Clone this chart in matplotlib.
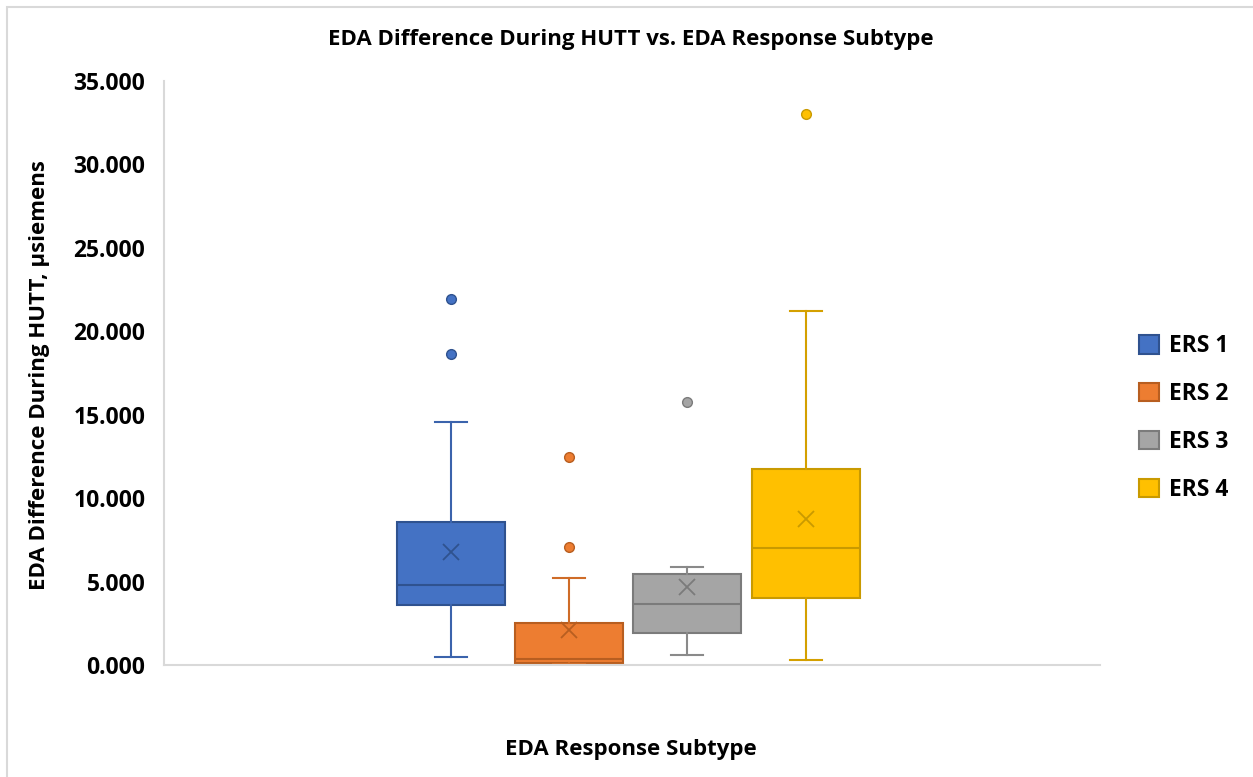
import matplotlib.pyplot as plt
from matplotlib.patches import Patch, Rectangle
from matplotlib.ticker import FormatStrFormatter

plt.rcParams['font.family'] = ['Open Sans', 'DejaVu Sans']

# Подписи групп
groups = ['ERS 1', 'ERS 2', 'ERS 3', 'ERS 4']

# Значения (мкСм)
whislo = [0.48, 0.05, 0.60, 0.30]
q1 = [3.60, 0.10, 1.92, 4.00]
med = [4.79, 0.34, 3.67, 6.99]
q3 = [8.57, 2.49, 5.47, 11.74]
whishi = [14.56, 5.23, 5.89, 21.21]
means = [6.77, 2.10, 4.69, 8.75]
fliers = [[21.93, 18.63], [12.48, 7.05], [15.76], [33.0]]

# Цвета серий
fill_colors = ['#4472C4', '#ED7D31', '#A5A5A5', '#FFC000']
edge_colors = ['#2F528F', '#B85E20', '#7B7B7B', '#C99A00']
line_colors = ['#3B63AC', '#CF6C28', '#8A8A8A', '#D4A000']

fig = plt.figure(figsize=(12.53, 7.77), dpi=100)
ax = fig.add_axes([164/1253, 112/777, 936/1253, 584/777])

# Рамка всей диаграммы
fig.patches.append(Rectangle((7/1253, -0.1), 1.2, (770/777) + 0.1,
                             transform=fig.transFigure, fill=False,
                             edgecolor='#D9D9D9', linewidth=1.5))

positions = [0.3066, 0.4327, 0.5588, 0.686]
box_w = 0.1154

for i in range(len(groups)):
    st = [{'whislo': whislo[i], 'q1': q1[i], 'med': med[i], 'q3': q3[i],
           'whishi': whishi[i], 'mean': means[i], 'fliers': fliers[i]}]
    ax.bxp(st, positions=[positions[i]], widths=box_w, capwidths=0.034,
           showmeans=True, patch_artist=True, manage_ticks=False,
           boxprops=dict(facecolor=fill_colors[i], edgecolor=edge_colors[i], linewidth=1.5),
           medianprops=dict(color=edge_colors[i], linewidth=1.5),
           whiskerprops=dict(color=line_colors[i], linewidth=1.5),
           capprops=dict(color=line_colors[i], linewidth=1.5),
           meanprops=dict(marker='x', markersize=12, markeredgecolor=edge_colors[i],
                          markeredgewidth=1.3, linestyle='none'),
           flierprops=dict(marker='o', markersize=7, markerfacecolor=fill_colors[i],
                           markeredgecolor=edge_colors[i], markeredgewidth=1))

ax.set_xlim(0, 1)
ax.set_ylim(0, 35)
ax.set_yticks([0, 5, 10, 15, 20, 25, 30, 35])
ax.yaxis.set_major_formatter(FormatStrFormatter('%.3f'))
ax.set_xticks([])
ax.tick_params(axis='y', length=0, pad=13.5, labelsize=16.5)
for lab in ax.get_yticklabels():
    lab.set_fontweight('bold')

for s in ['top', 'right']:
    ax.spines[s].set_visible(False)
ax.spines['left'].set_color('#D9D9D9')
ax.spines['bottom'].set_color('#D9D9D9')
ax.spines['left'].set_linewidth(1.5)
ax.spines['bottom'].set_linewidth(1.5)

fig.text(631/1253, 1 - 40/777, 'EDA Difference During HUTT vs. EDA Response Subtype',
         ha='center', va='center', fontsize=16, fontweight='bold')
fig.text(631/1253, 1 - 750/777, 'EDA Response Subtype',
         ha='center', va='center', fontsize=16, fontweight='bold')
fig.text(40/1253, 1 - 375/777, 'EDA Difference During HUTT, \u00b5siemens',
         ha='center', va='center', rotation=90, fontsize=16, fontweight='bold')

handles = [Patch(facecolor=fill_colors[i], edgecolor=edge_colors[i], linewidth=1.5)
           for i in range(len(groups))]
leg = fig.legend(handles, groups, loc='center left', bbox_to_anchor=(1118/1253, 1 - 418/777),
                 frameon=False, fontsize=16.5, handlelength=0.87, handleheight=0.87,
                 labelspacing=1.04, handletextpad=0.44)
for t in leg.get_texts():
    t.set_fontweight('bold')

fig.savefig('out.png', dpi=100)
